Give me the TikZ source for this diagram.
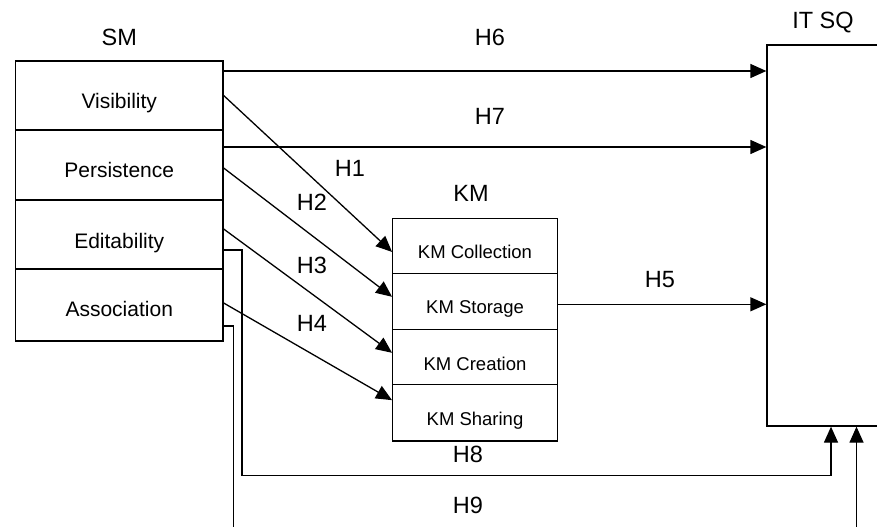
\documentclass[tikz,border=0pt]{standalone}
\usepackage{fontspec}
\setmainfont{Liberation Sans}
\usetikzlibrary{arrows.meta}
\begin{document}
\begin{tikzpicture}[x=1bp,y=-1bp,
  ln/.style={line width=1.3bp},
  arr/.style={ln,-{Triangle[length=16bp,width=14bp]}},
  smbox/.style={draw,ln,rectangle,inner sep=0pt,minimum width=207.5bp},
  kmbox/.style={draw,ln,rectangle,inner sep=0pt,minimum width=164.6bp},
  smtext/.style={anchor=base,inner sep=0pt,font=\fontsize{21bp}{21bp}\selectfont},
  kmtext/.style={anchor=base,inner sep=0pt,font=\fontsize{18.5bp}{18.5bp}\selectfont},
  lab/.style={anchor=base,inner sep=0pt,font=\fontsize{23.5bp}{23.5bp}\selectfont}]
\useasboundingbox (0,0) rectangle (877,527);
\clip (0,0) rectangle (877,527);
% SM box
\node[smbox,minimum height=69bp] (vis) at (119.25,95.5) {};
\node[smbox,minimum height=70bp] (per) at (119.25,165) {};
\node[smbox,minimum height=69bp] (edi) at (119.25,234.5) {};
\node[smbox,minimum height=72bp] (ass) at (119.25,305) {};
\node[smtext] (tvis) at (119.25,109) {Visibility};
\node[smtext] (tper) at (119.25,178) {Persistence};
\node[smtext] (tedi) at (119.25,249) {Editability};
\node[smtext] (tass) at (119.25,317) {Association};
\node[lab] (tsm) at (119.25,46) {SM};
% KM box
\node[kmbox,minimum height=54.8bp] (kmco) at (475,245.9) {};
\node[kmbox,minimum height=56bp] (kmst) at (475,301.3) {};
\node[kmbox,minimum height=55bp] (kmcr) at (475,356.8) {};
\node[kmbox,minimum height=56.7bp] (kmsh) at (475,412.65) {};
\node[kmtext] (tkmco) at (475,259) {KM Collection};
\node[kmtext] (tkmst) at (475,314) {KM Storage};
\node[kmtext] (tkmcr) at (475,370) {KM Creation};
\node[kmtext] (tkmsh) at (475,425) {KM Sharing};
\node[lab] (tkm) at (471,202) {KM};
% IT SQ box
\node[draw,ln,rectangle,inner sep=0pt,minimum width=128bp,minimum height=381bp] (itsq) at (831,235.5) {};
\node[lab] (titsq) at (823,29) {IT SQ};
% H6, H7
\coordinate (h6s) at ([yshift=24.5bp]vis.east);
\draw[arr] (h6s) -- (h6s -| itsq.west);
\coordinate (h7s) at ([yshift=18bp]per.east);
\draw[arr] (h7s) -- (h7s -| itsq.west);
\node[lab] (th6) at (490,46) {H6};
\node[lab] (th7) at (490,125) {H7};
% H1-H4
\draw[arr] (vis.east) -- ([yshift=-6bp]kmco.west);
\draw[arr] ([yshift=-3bp]per.east) -- ([yshift=4.5bp]kmst.west);
\draw[arr] ([yshift=5.5bp]edi.east) -- ([yshift=4bp]kmcr.west);
\draw[arr] ([yshift=2bp]ass.east) -- ([yshift=12.5bp]kmsh.west);
\node[lab] (th1) at (350,177) {H1};
\node[lab] (th2) at (312,211) {H2};
\node[lab] (th3) at (312,274) {H3};
\node[lab] (th4) at (312,332) {H4};
% H5
\coordinate (h5s) at ([yshift=-3bp]kmst.east);
\draw[arr] (h5s) -- (h5s -| itsq.west);
\node[lab] (th5) at (660,288) {H5};
% H8
\coordinate (h8s) at ([yshift=-15.5bp]edi.east);
\coordinate (h8a) at (242,475.7);
\draw[ln] (h8s) -| (h8a);
\draw[arr] (h8a) -| (itsq.south);
\node[lab] (th8) at (468,462) {H8};
% H9
\coordinate (h9s) at ([yshift=-21bp]ass.east);
\coordinate (h9a) at (233.7,535);
\draw[ln] (h9s) -| (h9a);
\coordinate (h9b) at (856.5,535);
\draw[arr] (h9b) -- (h9b |- itsq.south);
\node[lab] (th9) at (468,513) {H9};
\end{tikzpicture}
\end{document}
